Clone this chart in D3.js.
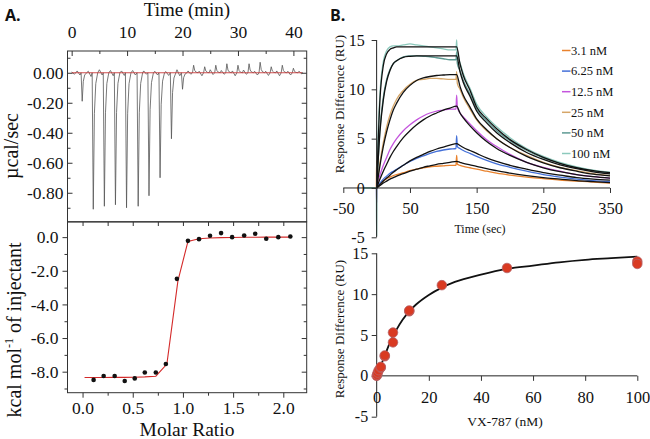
<!DOCTYPE html>
<html><head><meta charset="utf-8">
<script src="https://cdn.jsdelivr.net/npm/d3@7"></script>
<style>body{margin:0;background:#fff} svg{display:block}</style>
</head><body><svg id="c" width="650" height="439"></svg>
<script>
// ---------- Panel A (ITC) data ----------
const ITC_INJ_TIMES = [1.8,3.8,5.8,7.8,9.8,11.9,13.85,15.85,17.9,19.9,21.9,23.9,25.9,27.9,29.9,31.9,33.9,35.9,37.9,39.9];
const ITC_INJ_PEAKS = [-0.19,-0.91,-0.89,-0.88,-0.90,-0.89,-0.82,-0.70,-0.44,-0.11,0.05,0.04,0.05,0.06,0.05,0.06,0.07,0.04,0.05,0.03];
const ITC_BASELINE = [0.005,-0.01,0.012,-0.015,0.02,-0.02,0.01,-0.025,0.015,-0.01,0.02,-0.015,0.008,-0.012,0.015,-0.02,0.01,-0.008,0.012,-0.018,0.02,-0.01,0.015,-0.015,0.01,-0.02,0.012,-0.01,0.018,-0.012,0.01,-0.015,0.02,-0.01,0.008,-0.018,0.015,-0.012,0.02,-0.02,0.01,-0.015,0.012,-0.01,0.018,-0.015,0.01,-0.02,0.015,-0.01,0.02,-0.012,0.01,-0.018,0.015,-0.01,0.02,-0.015,0.012,-0.02,0.01,-0.012,0.018,-0.01,0.015,-0.02,0.01,-0.015,0.02,-0.012,0.01,-0.018,0.015,-0.01,0.012,-0.02,0.018,-0.01,0.01,-0.015,0.02,-0.012,0.01,-0.008];
const MOLAR_RATIO = [0.11,0.21,0.32,0.42,0.52,0.62,0.73,0.83,0.94,1.05,1.16,1.27,1.38,1.49,1.61,1.72,1.83,1.95,2.07];
const KCAL = [-8.49,-8.26,-8.26,-8.55,-8.40,-8.05,-8.05,-7.54,-2.48,-0.22,-0.12,0.08,0.24,0.0,0.10,0.20,-0.10,0.0,0.04];
const FIT_MR = [0.02,0.11,0.21,0.32,0.42,0.52,0.62,0.73,0.84,0.95,1.05,1.16,1.27,1.38,1.49,1.61,1.72,1.83,1.95,2.07];
const FIT_KCAL = [-8.35,-8.35,-8.35,-8.34,-8.34,-8.33,-8.31,-8.27,-7.55,-2.6,-0.25,-0.1,-0.05,-0.03,-0.02,-0.01,-0.01,0,0,0];
const ITC_TIME_TICKS = [0,10,20,30,40];
const ITC_RATE_TICKS = [0,-0.2,-0.4,-0.6,-0.8];
const MR_TICKS = [0,0.5,1,1.5,2];
const KCAL_TICKS = [0,-2,-4,-6,-8];

// ---------- Panel B (SPR) data ----------
const SPR_LABELS = ["3.1 nM","6.25 nM","12.5 nM","25 nM","50 nM","100 nM"];
const SPR_T = [-20,-0.5,0,0.5,5,10,15,20,25,30,40,50,60,70,80,90,100,110,119,120,121,125,130,140,150,165,180,200,225,250,275,300,325,350];
const SPR_3_1  = [0,0,2.8,0.1,0.4,0.7,0.95,1.1,1.25,1.35,1.55,1.75,1.9,2.05,2.15,2.2,2.25,2.3,2.3,3.3,2.4,2.3,2.2,2.05,1.9,1.7,1.5,1.3,1.1,0.95,0.8,0.7,0.6,0.5];
const SPR_6_25 = [0,0,0,0.1,0.5,0.9,1.2,1.5,1.7,1.9,2.3,2.7,3.0,3.25,3.5,3.7,3.85,3.95,4.0,5.3,4.2,4.0,3.8,3.5,3.2,2.8,2.45,2.1,1.7,1.35,1.1,0.9,0.75,0.65];
const SPR_12_5 = [0,0,-1.5,0.2,1.3,2.3,3.1,3.9,4.5,5.0,5.8,6.4,6.9,7.3,7.6,7.8,7.9,8.0,8.0,9.4,8.2,7.6,7.2,6.5,5.8,4.9,4.2,3.4,2.6,2.1,1.7,1.35,1.15,1.0];
const SPR_25   = [0,0,0,0.3,2.6,4.6,6.2,7.4,8.3,9.0,9.9,10.5,10.9,11.0,11.1,11.1,11.05,11.0,11.0,11.8,10.6,10.0,9.2,8.0,6.9,5.8,5.0,4.1,3.3,2.6,2.1,1.75,1.45,1.25];
const SPR_50   = [0,0,0,0.5,6.0,9.2,11.0,12.0,12.6,12.9,13.3,13.4,13.4,13.35,13.3,13.2,13.1,13.0,13.0,13.8,12.6,11.9,10.9,9.5,8.0,6.8,5.8,4.8,3.8,3.05,2.5,2.05,1.7,1.45];
const SPR_100  = [0,0,-4.8,1.0,9.5,12.8,13.9,14.3,14.4,14.4,14.5,14.6,14.5,14.4,14.3,14.2,14.1,14.0,14.0,15.0,13.5,12.7,11.6,10.1,8.5,7.2,6.2,5.1,4.0,3.2,2.6,2.15,1.8,1.6];
const FIT_T = [0,5,10,15,20,25,30,40,50,60,70,80,90,100,110,120,125,130,140,150,165,180,200,225,250,275,300,325,350];
const FIT_3_1  = [0,0.25,0.5,0.7,0.9,1.05,1.2,1.45,1.7,1.9,2.1,2.25,2.4,2.5,2.6,2.7,2.6,2.5,2.35,2.2,1.95,1.75,1.5,1.25,1.05,0.9,0.75,0.65,0.55];
const FIT_6_25 = [0,0.35,0.7,1.0,1.3,1.6,1.85,2.3,2.75,3.1,3.4,3.7,3.95,4.15,4.35,4.5,4.3,4.1,3.8,3.5,3.05,2.7,2.3,1.9,1.55,1.3,1.05,0.9,0.8];
const FIT_12_5 = [0,0.9,1.7,2.4,3.1,3.7,4.2,5.1,5.8,6.4,6.9,7.3,7.6,7.9,8.1,8.3,7.6,7.1,6.3,5.6,4.7,4.0,3.3,2.6,2.05,1.65,1.35,1.15,1.0];
const FIT_25   = [0,2.3,4.2,5.7,6.9,7.9,8.6,9.7,10.4,10.9,11.15,11.3,11.4,11.45,11.5,11.5,10.3,9.4,8.2,7.0,5.9,5.0,4.1,3.2,2.55,2.05,1.7,1.4,1.22];
const FIT_50   = [0,5.7,8.9,10.8,11.9,12.6,12.9,13.25,13.35,13.4,13.4,13.4,13.4,13.4,13.4,13.4,11.8,10.7,9.3,7.8,6.6,5.6,4.6,3.6,2.9,2.35,1.95,1.63,1.42];
const FIT_100  = [0,9.0,12.4,13.6,14.05,14.2,14.3,14.3,14.3,14.3,14.3,14.3,14.3,14.3,14.3,14.3,12.6,11.4,9.9,8.2,7.0,6.0,4.9,3.9,3.1,2.5,2.05,1.75,1.55];
const SPR_TIME_TICKS = [-50,50,150,250,350];
const SPR_RESP_TICKS = [-5,0,5,10,15];

const VX_CONC = [0,0.2,0.4,0.8,1.56,1.56,3.1,3.1,6.25,6.25,12.5,12.5,25,50,100,100];
const VX_RESP = [0,0.15,0.4,0.7,1.0,1.1,2.4,2.5,4.1,5.3,7.9,8.0,11.1,13.2,14.0,13.7];
const VX_FIT_CONC = [0,1,2,3,5,7.5,10,12.5,15,20,25,30,40,50,60,70,80,90,100];
const VX_FIT_RESP = [0,0.8,1.6,2.4,4.0,5.6,6.9,7.9,8.7,9.9,10.8,11.5,12.4,13.1,13.5,13.9,14.2,14.4,14.6];
const VX_TICKS = [0,20,40,60,80,100];

// ---------- styling ----------
const SERIF = "'Liberation Serif','Times New Roman',serif";
const SPR_COLORS = ["#E9822D","#4470D8","#C455DD","#D6A668","#5E9A93","#8CC9BC"];
const svg = d3.select("#c");
svg.append("rect").attr("width",650).attr("height",439).attr("fill","#fff");

function styleAxis(g, fs){
  g.attr("font-family", SERIF).attr("font-size", fs);
  g.select(".domain").remove();
  g.selectAll("line").attr("stroke","#333");
  g.selectAll("text").attr("fill","#111");
  return g;
}

// ================= Panel A top =================
const xT = d3.scaleLinear().domain([-0.75, 42.4]).range([67.5, 306.7]);
const yT = d3.scaleLinear().domain([-0.993, 0.145]).range([221.7, 51]);
const xB = d3.scaleLinear().domain([-0.15, 2.233]).range([67.5, 306.7]);
const yB = d3.scaleLinear().domain([-9.25, 0.9]).range([392.7, 222]);

let trace = [];
ITC_BASELINE.forEach((v,i)=>{
  const t = i*0.5;
  const inside = ITC_INJ_TIMES.some(t0 => t >= t0-0.1 && t <= t0+0.9);
  if(!inside) trace.push([t, v]);
});
ITC_INJ_TIMES.forEach((t0,i)=>{
  const p = ITC_INJ_PEAKS[i];
  trace.push([t0-0.1,0],[t0+0.1,p],[t0+0.3,p*0.3],[t0+0.55,p*0.08],[t0+0.9,0]);
});
trace.sort((a,b)=>a[0]-b[0]);
trace.push([41.6,0.005]);

const gA = svg.append("g");
gA.append("path").datum(trace)
  .attr("d", d3.line().x(d=>xT(d[0])).y(d=>yT(d[1])))
  .attr("fill","none").attr("stroke","#555").attr("stroke-width",0.8);
gA.append("line").attr("x1",xT(0)).attr("x2",xT(41.6)).attr("y1",yT(0)).attr("y2",yT(0))
  .attr("stroke","#c83a3a").attr("stroke-width",0.9);

styleAxis(gA.append("g").attr("transform","translate(0,51)")
  .call(d3.axisTop(xT).tickValues(ITC_TIME_TICKS).tickSizeInner(-5).tickSizeOuter(0).tickPadding(13).tickFormat(d=>String(d))), 17.5);
styleAxis(gA.append("g").attr("transform","translate(0,51)")
  .call(d3.axisTop(xT).tickValues([5,15,25,35]).tickSizeInner(-3).tickSizeOuter(0).tickFormat("")), 10);
styleAxis(gA.append("g").attr("transform","translate(67.5,0)")
  .call(d3.axisLeft(yT).tickValues(ITC_RATE_TICKS).tickSizeInner(-5).tickSizeOuter(0).tickPadding(4).tickFormat(d=>d.toFixed(2))), 17.5);
styleAxis(gA.append("g").attr("transform","translate(67.5,0)")
  .call(d3.axisLeft(yT).tickValues([0.1,-0.1,-0.3,-0.5,-0.7,-0.9]).tickSizeInner(-3).tickSizeOuter(0).tickFormat("")), 10);
styleAxis(gA.append("g").attr("transform","translate(306.7,0)")
  .call(d3.axisRight(yT).tickValues(ITC_RATE_TICKS).tickSizeInner(-5).tickSizeOuter(0).tickFormat("")), 10);
styleAxis(gA.append("g").attr("transform","translate(306.7,0)")
  .call(d3.axisRight(yT).tickValues([0.1,-0.1,-0.3,-0.5,-0.7,-0.9]).tickSizeInner(-3).tickSizeOuter(0).tickFormat("")), 10);
gA.append("rect").attr("x",67.5).attr("y",51).attr("width",239.2).attr("height",170.7)
  .attr("fill","none").attr("stroke","#333").attr("stroke-width",1);

// ================= Panel A bottom =================
gA.append("path").datum(d3.zip(FIT_MR, FIT_KCAL))
  .attr("d", d3.line().x(d=>xB(d[0])).y(d=>yB(d[1])))
  .attr("fill","none").attr("stroke","#d42a2a").attr("stroke-width",1.1);
gA.append("g").selectAll("circle").data(d3.zip(MOLAR_RATIO, KCAL)).join("circle")
  .attr("cx",d=>xB(d[0])).attr("cy",d=>yB(d[1])).attr("r",2.3).attr("fill","#111");

styleAxis(gA.append("g").attr("transform","translate(0,222)")
  .call(d3.axisTop(xB).tickValues([0,0.25,0.5,0.75,1,1.25,1.5,1.75,2]).tickSizeInner(-4).tickSizeOuter(0).tickFormat("")), 10);
styleAxis(gA.append("g").attr("transform","translate(0,392.7)")
  .call(d3.axisBottom(xB).tickValues(MR_TICKS).tickSizeInner(5).tickSizeOuter(0).tickPadding(4).tickFormat(d=>d.toFixed(1))), 17.5);
styleAxis(gA.append("g").attr("transform","translate(0,392.7)")
  .call(d3.axisBottom(xB).tickValues([0.25,0.75,1.25,1.75]).tickSizeInner(3).tickSizeOuter(0).tickFormat("")), 10);
styleAxis(gA.append("g").attr("transform","translate(67.5,0)")
  .call(d3.axisLeft(yB).tickValues(KCAL_TICKS).tickSizeInner(5).tickSizeOuter(0).tickPadding(4).tickFormat(d=>d.toFixed(1))), 17.5);
styleAxis(gA.append("g").attr("transform","translate(67.5,0)")
  .call(d3.axisLeft(yB).tickValues([-1,-3,-5,-7,-9]).tickSizeInner(3).tickSizeOuter(0).tickFormat("")), 10);
styleAxis(gA.append("g").attr("transform","translate(306.7,0)")
  .call(d3.axisRight(yB).tickValues(KCAL_TICKS).tickSizeInner(-5).tickSizeOuter(0).tickFormat("")), 10);
styleAxis(gA.append("g").attr("transform","translate(306.7,0)")
  .call(d3.axisRight(yB).tickValues([-1,-3,-5,-7,-9]).tickSizeInner(-3).tickSizeOuter(0).tickFormat("")), 10);
gA.append("rect").attr("x",67.5).attr("y",222).attr("width",239.2).attr("height",170.7)
  .attr("fill","none").attr("stroke","#333").attr("stroke-width",1);

gA.append("text").attr("x",187).attr("y",15.5).attr("text-anchor","middle")
  .attr("font-family",SERIF).attr("font-size",19).attr("fill","#111").text("Time (min)");
gA.append("text").attr("x",187).attr("y",436).attr("text-anchor","middle")
  .attr("font-family",SERIF).attr("font-size",19.5).attr("fill","#111").text("Molar Ratio");
gA.append("text").attr("transform","translate(18,146) rotate(-90)").attr("text-anchor","middle")
  .attr("font-family",SERIF).attr("font-size",20).attr("fill","#111").text("µcal/sec");
const kl = gA.append("text").attr("transform","translate(21,330) rotate(-90)").attr("text-anchor","middle")
  .attr("font-family",SERIF).attr("font-size",20).attr("fill","#111");
kl.append("tspan").text("kcal mol");
kl.append("tspan").attr("font-size",12).attr("dy",-8).text("-1");
kl.append("tspan").attr("dy",8).text(" of injectant");
svg.append("text").attr("x",5).attr("y",20.7).attr("font-family","'Open Sans',sans-serif")
  .attr("font-weight","bold").attr("font-size",16).attr("fill","#111").text("A.");
svg.append("text").attr("x",330).attr("y",20.7).attr("font-family","'Open Sans',sans-serif")
  .attr("font-weight","bold").attr("font-size",16).attr("fill","#111").text("B.");

// ================= Panel B top (sensorgrams) =================
const xS = d3.scaleLinear().domain([-50,350]).range([343.3,610]);
const yS = d3.scaleLinear().domain([-5,15]).range([237.3,40]);
const gB = svg.append("g");
const dataSeries = [SPR_3_1,SPR_6_25,SPR_12_5,SPR_25,SPR_50,SPR_100];
const fitSeries = [FIT_3_1,FIT_6_25,FIT_12_5,FIT_25,FIT_50,FIT_100];
const sprLine = d3.line().x(d=>xS(d[0])).y(d=>yS(d[1])).curve(d3.curveMonotoneX);
dataSeries.forEach((s,i)=>{
  gB.append("path").datum(d3.zip(SPR_T, s)).attr("d", sprLine)
    .attr("fill","none").attr("stroke",SPR_COLORS[i]).attr("stroke-width",1.3);
});
fitSeries.forEach((s,i)=>{
  gB.append("path").datum(d3.zip(FIT_T, s)).attr("d", sprLine)
    .attr("fill","none").attr("stroke","#111").attr("stroke-width",1.3);
});
gB.append("line").attr("x1",xS(0)).attr("x2",xS(0)).attr("y1",yS(15)).attr("y2",yS(-5)).attr("stroke","#222");
gB.append("line").attr("x1",xS(-50)).attr("x2",xS(350)).attr("y1",yS(0)).attr("y2",yS(0)).attr("stroke","#222");
styleAxis(gB.append("g").attr("transform",`translate(${xS(0)},0)`)
  .call(d3.axisLeft(yS).tickValues(SPR_RESP_TICKS).tickSizeInner(5).tickSizeOuter(0).tickPadding(7).tickFormat(d=>String(d))), 16);
styleAxis(gB.append("g").attr("transform",`translate(0,${yS(0)})`)
  .call(d3.axisBottom(xS).tickValues(SPR_TIME_TICKS).tickSizeInner(5).tickSizeOuter(0).tickPadding(9).tickFormat(d=>String(d))), 16.5);
gB.append("text").attr("x",480).attr("y",232.5).attr("text-anchor","middle")
  .attr("font-family",SERIF).attr("font-size",12).attr("fill","#111").text("Time (sec)");
gB.append("text").attr("transform","translate(344,104) rotate(-90)").attr("text-anchor","middle")
  .attr("font-family",SERIF).attr("font-size",13).attr("fill","#111").text("Response Difference (RU)");
const leg = gB.append("g");
SPR_LABELS.forEach((lab,i)=>{
  const y = 50.5 + i*20.6;
  leg.append("line").attr("x1",562).attr("x2",570.5).attr("y1",y).attr("y2",y)
    .attr("stroke",SPR_COLORS[i]).attr("stroke-width",1.5);
  leg.append("text").attr("x",571).attr("y",y+4.2).attr("font-family",SERIF)
    .attr("font-size",12.5).attr("fill","#111").text(lab);
});

// ================= Panel B bottom (dose response) =================
const xV = d3.scaleLinear().domain([0,100]).range([376.7,637.3]);
const yV = d3.scaleLinear().domain([-5,15]).range([416.7,253.3]);
const gC = svg.append("g");
gC.append("line").attr("x1",xV(0)).attr("x2",xV(0)).attr("y1",yV(15)).attr("y2",yV(-5)).attr("stroke","#222");
gC.append("line").attr("x1",xV(0)).attr("x2",xV(100)).attr("y1",yV(0)).attr("y2",yV(0)).attr("stroke","#222");
styleAxis(gC.append("g").attr("transform",`translate(${xV(0)},0)`)
  .call(d3.axisLeft(yV).tickValues(SPR_RESP_TICKS).tickSizeInner(5).tickSizeOuter(0).tickPadding(3.5).tickFormat(d=>String(d))), 16);
styleAxis(gC.append("g").attr("transform",`translate(0,${yV(0)})`)
  .call(d3.axisBottom(xV).tickValues(VX_TICKS).tickSizeInner(5).tickSizeOuter(0).tickPadding(10).tickFormat(d=>String(d))), 16.5);
gC.append("path").datum(d3.zip(VX_FIT_CONC, VX_FIT_RESP))
  .attr("d", d3.line().x(d=>xV(d[0])).y(d=>yV(d[1])).curve(d3.curveMonotoneX))
  .attr("fill","none").attr("stroke","#111").attr("stroke-width",1.8);
gC.append("g").selectAll("circle").data(d3.zip(VX_CONC, VX_RESP)).join("circle")
  .attr("cx",d=>xV(d[0])).attr("cy",d=>yV(d[1])).attr("r",4.8)
  .attr("fill","#D93A22").attr("stroke","#B5636A").attr("stroke-width",0.8);
gC.append("text").attr("x",505).attr("y",426).attr("text-anchor","middle")
  .attr("font-family",SERIF).attr("font-size",13.5).attr("fill","#111").text("VX-787 (nM)");
gC.append("text").attr("transform","translate(344,329) rotate(-90)").attr("text-anchor","middle")
  .attr("font-family",SERIF).attr("font-size",13).attr("fill","#111").text("Response Difference (RU)");
</script></body></html>
